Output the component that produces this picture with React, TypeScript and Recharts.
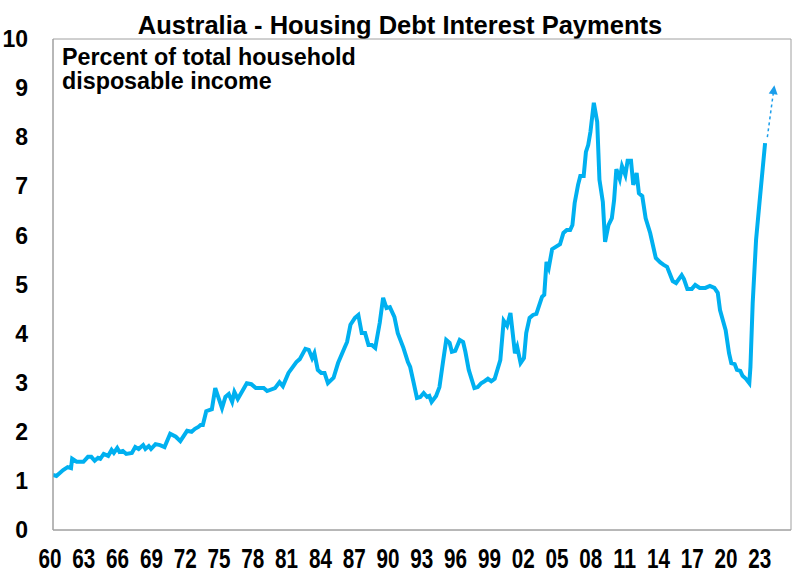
import { Line, LineChart, ReferenceArea, XAxis, YAxis } from "recharts"

const years = [
  1960.0, 1960.3, 1960.9, 1961.3, 1961.6, 1961.7, 1962.1, 1962.7, 1963.1, 1963.4,
  1963.7, 1964.0, 1964.2, 1964.5, 1964.9, 1965.2, 1965.4, 1965.7, 1965.9, 1966.2,
  1966.5, 1967.0, 1967.3, 1967.6, 1968.0, 1968.2, 1968.5, 1968.7, 1969.1, 1969.5,
  1969.9, 1970.4, 1970.9, 1971.3, 1971.9, 1972.3, 1972.6, 1972.9, 1973.1, 1973.3,
  1973.6, 1974.1, 1974.4, 1975.0, 1975.3, 1975.6, 1975.9, 1976.1, 1976.4, 1977.2,
  1977.6, 1978.0, 1978.4, 1978.7, 1979.0, 1979.7, 1980.1, 1980.4, 1980.9, 1981.6,
  1981.9, 1982.4, 1982.7, 1983.0, 1983.2, 1983.5, 1983.8, 1984.1, 1984.4, 1984.9,
  1985.3, 1985.8, 1986.1, 1986.4, 1986.8, 1987.1, 1987.4, 1987.7, 1988.0, 1988.3,
  1988.6, 1989.0, 1989.3, 1989.6, 1989.9, 1990.3, 1990.6, 1991.1, 1991.5, 1991.7,
  1992.0, 1992.3, 1992.6, 1992.9, 1993.2, 1993.4, 1993.6, 1994.0, 1994.3, 1994.6,
  1994.9, 1995.2, 1995.4, 1995.7, 1996.1, 1996.4, 1996.6, 1996.9, 1997.4, 1997.7,
  1998.0, 1998.3, 1998.6, 1998.9, 1999.2, 1999.7, 2000.0, 2000.3, 2000.6, 2001.0,
  2001.2, 2001.5, 2001.8, 2002.0, 2002.3, 2002.6, 2002.9, 2003.4, 2003.6, 2003.8,
  2004.0, 2004.3, 2005.0, 2005.3, 2005.6, 2005.9, 2006.1, 2006.3, 2006.6, 2006.8,
  2007.1, 2007.3, 2007.5, 2007.7, 2008.0, 2008.3, 2008.5, 2008.8, 2009.0, 2009.3,
  2009.6, 2009.8, 2010.0, 2010.3, 2010.5, 2010.8, 2011.0, 2011.3, 2011.5, 2011.8,
  2012.0, 2012.3, 2012.6, 2013.0, 2013.5, 2013.9, 2014.2, 2014.5, 2015.0, 2015.3,
  2015.8, 2016.0, 2016.3, 2016.7, 2017.0, 2017.4, 2017.9, 2018.3, 2018.7, 2019.0,
  2019.2, 2019.7, 2020.0, 2020.2, 2020.5, 2020.7, 2021.0, 2021.2, 2021.5, 2021.8,
  2021.9, 2022.1, 2022.4, 2022.7, 2023.0, 2023.2,
]

const payments = [
  1.12, 1.10, 1.22, 1.28, 1.26, 1.45, 1.39, 1.39, 1.49, 1.49,
  1.41, 1.47, 1.45, 1.55, 1.51, 1.63, 1.57, 1.67, 1.59, 1.61,
  1.55, 1.57, 1.69, 1.65, 1.73, 1.65, 1.71, 1.65, 1.75, 1.73,
  1.69, 1.96, 1.90, 1.81, 2.02, 2.00, 2.06, 2.10, 2.14, 2.14,
  2.42, 2.46, 2.89, 2.48, 2.71, 2.77, 2.61, 2.81, 2.67, 2.99,
  2.97, 2.89, 2.89, 2.89, 2.83, 2.89, 3.01, 2.93, 3.20, 3.42,
  3.48, 3.69, 3.67, 3.50, 3.60, 3.26, 3.20, 3.20, 2.99, 3.10,
  3.40, 3.67, 3.83, 4.18, 4.32, 4.38, 4.01, 4.01, 3.77, 3.77,
  3.71, 4.22, 4.73, 4.52, 4.54, 4.34, 4.01, 3.71, 3.42, 3.32,
  3.01, 2.69, 2.71, 2.79, 2.71, 2.73, 2.61, 2.73, 2.91, 3.40,
  3.87, 3.81, 3.63, 3.65, 3.87, 3.83, 3.63, 3.26, 2.89, 2.91,
  2.99, 3.03, 3.08, 3.03, 3.08, 3.46, 4.26, 4.16, 4.42, 3.60,
  3.73, 3.40, 3.50, 4.01, 4.32, 4.38, 4.40, 4.75, 4.79, 5.46,
  5.34, 5.72, 5.82, 6.05, 6.11, 6.11, 6.21, 6.66, 7.03, 7.21,
  7.21, 7.70, 7.84, 8.11, 8.70, 8.31, 7.13, 6.68, 5.87, 6.21,
  6.35, 6.72, 7.35, 7.15, 7.41, 7.23, 7.52, 7.52, 7.03, 7.27,
  6.86, 6.80, 6.35, 6.05, 5.54, 5.45, 5.40, 5.36, 5.07, 5.03,
  5.19, 5.11, 4.91, 4.91, 4.99, 4.93, 4.93, 4.97, 4.93, 4.83,
  4.48, 4.07, 3.60, 3.40, 3.38, 3.26, 3.24, 3.14, 3.08, 2.99,
  3.32, 4.62, 5.91, 6.66, 7.39, 7.88,
]

// dashed arrow showing where payments are heading
const projYears = [2023.4, 2024.0]
const projPayments = [8.0, 9.02]

const xTicks = [
  1960, 1963, 1966, 1969, 1972, 1975, 1978, 1981, 1984, 1987, 1990,
  1993, 1996, 1999, 2002, 2005, 2008, 2011, 2014, 2017, 2020, 2023,
]
const yTicks = [0, 1, 2, 3, 4, 5, 6, 7, 8, 9, 10]

const title = "Australia - Housing Debt Interest Payments"
const subtitle = ["Percent of total household", "disposable income"]

const data = years.map((year, i) => ({ year, value: payments[i] }))
const projData = projYears.map((year, i) => ({ year, proj: projPayments[i] }))

const BLUE = "#00B0F0"
const ARROW = "#1A9DEB"

function XTick(props: any) {
  const { x, y, payload } = props
  const label = String(payload.value % 100).padStart(2, "0")
  return (
    <text
      x={x - 3}
      y={y}
      dy="0.71em"
      textAnchor="middle"
      fontSize={28}
      fontWeight="bold"
      fill="#000"
      textLength={23}
      lengthAdjust="spacingAndGlyphs"
    >
      {label}
    </text>
  )
}

let prevPoint: { cx: number; cy: number } | null = null

function ArrowHead(props: any) {
  const { cx, cy, index } = props
  if (index === 0) {
    prevPoint = { cx, cy }
    return <g key="a0" />
  }
  const p = prevPoint || { cx, cy: cy + 10 }
  const angle = (Math.atan2(cy - p.cy, cx - p.cx) * 180) / Math.PI
  return (
    <polygon
      key="a1"
      points="2,0 -7,-4.5 -7,4.5"
      fill={ARROW}
      transform={`translate(${cx},${cy}) rotate(${angle})`}
    />
  )
}

export default function App() {
  return (
    <div
      style={{
        position: "absolute",
        left: 0,
        top: 0,
        width: 800,
        height: 577,
        background: "#fff",
        fontFamily: "'Liberation Sans', Arial, sans-serif",
      }}
    >
      <div
        style={{
          position: "absolute",
          top: 10,
          left: 0,
          width: 800,
          textAlign: "center",
          fontSize: 25.5,
          fontWeight: "bold",
          lineHeight: "30px",
        }}
      >
        {title}
      </div>
      <div
        style={{
          position: "absolute",
          top: 45,
          left: 62,
          fontSize: 23.3,
          fontWeight: "bold",
          lineHeight: "24px",
          zIndex: 1,
        }}
      >
        {subtitle.map((s) => (
          <div key={s}>{s}</div>
        ))}
      </div>
      <LineChart
        width={800}
        height={577}
        data={data}
        margin={{ top: 39, right: 9, left: 0, bottom: 0 }}
      >
        <XAxis
          dataKey="year"
          type="number"
          domain={[1960, 2025.5]}
          ticks={xTicks}
          interval={0}
          allowDataOverflow
          height={47}
          tickLine={false}
          tickSize={0}
          tickMargin={18}
          axisLine={{ stroke: "#A0A0A0" }}
          tick={<XTick />}
        />
        <YAxis
          type="number"
          domain={[0, 10]}
          ticks={yTicks}
          interval={0}
          width={53}
          tickLine={false}
          tickSize={0}
          tickMargin={25}
          axisLine={{ stroke: "#A0A0A0" }}
          tick={{ fill: "#000", fontSize: 23, fontWeight: "bold" }}
        />
        <ReferenceArea
          x1={1960}
          x2={2025.5}
          y1={0}
          y2={10}
          fill="none"
          stroke="#A0A0A0"
          strokeWidth={1}
          ifOverflow="visible"
        />
        <Line
          dataKey="value"
          type="linear"
          stroke={BLUE}
          strokeWidth={4}
          dot={false}
          isAnimationActive={false}
        />
        <Line
          data={projData}
          dataKey="proj"
          type="linear"
          stroke={ARROW}
          strokeWidth={1.5}
          strokeDasharray="3 3"
          dot={ArrowHead}
          isAnimationActive={false}
        />
      </LineChart>
    </div>
  )
}
